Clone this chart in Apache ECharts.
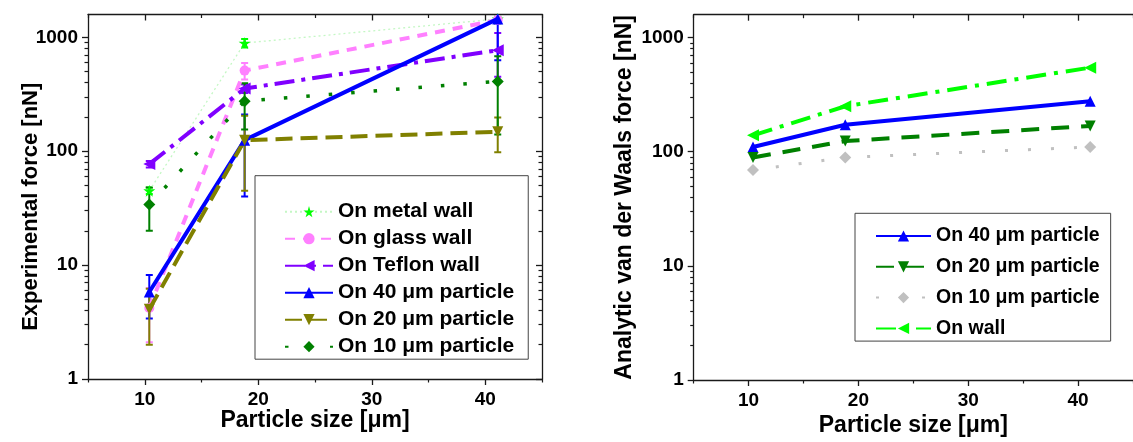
<!DOCTYPE html>
<html>
<head>
<meta charset="utf-8">
<script src="https://cdn.jsdelivr.net/npm/echarts@6/dist/echarts.min.js"></script>
<style>
  html, body { margin: 0; padding: 0; background: #fff; }
  #chart { width: 1133px; height: 442px; }
</style>
</head>
<body>
<div id="chart"></div>
<script>
// Particle sizes [μm]
const sizes = [10.4, 18.8, 41.1];

// Experimental adhesion force [nN] with error half-widths
const metalWall = [45, 890, 1450];
const metalWallErr = [3, 75, 80];
const glassWall = [4.2, 510, 1420];
const glassWallErr = [2.1, 85, 100];
const teflonWall = [77, 355, 770];
const teflonWallErr = [5, 30, 320];
const exp40 = [5.8, 125, 1450];
const exp40Err = [2.4, 85, 820];
const exp20 = [4.1, 125, 148];
const exp20Err = [2.1, 80, 50];
const exp10 = [34, 275, 410];
const exp10Err = [14, 120, 270];

// Analytic van der Waals force [nN]
const vdw40 = [110, 172, 276];
const vdw20 = [89, 124, 168];
const vdw10 = [69, 89, 110];
const vdwWall = [139, 250, 545];

// Axis ticks
const xTicks = [10, 20, 30, 40];
const xMinorTicks = [5, 15, 25, 35, 45];
const yTicks = [1, 10, 100, 1000];
const yMinorTicks = [2, 3, 4, 5, 6, 7, 8, 9, 20, 30, 40, 50, 60, 70, 80, 90,
                     200, 300, 400, 500, 600, 700, 800, 900];

const FONT = '"Liberation Sans", Arial, sans-serif';
const AXIS_COLOR = '#1a1a1a';
const STAR = 'path://M50,0 L61,35 L98,35 L68,57 L79,91 L50,70 L21,91 L32,57 L2,35 L39,35 Z';

const chart = echarts.init(document.getElementById('chart'));

function xAxesFor(grid, titleGap) {
  const base = { type: 'value', gridIndex: grid, min: 5, max: 45, splitLine: { show: false } };
  return [
    Object.assign({}, base, {
      position: 'bottom',
      axisLine: { show: true, lineStyle: { color: AXIS_COLOR, width: 1.3 } },
      axisTick: { show: true, customValues: xTicks, length: 6, lineStyle: { color: AXIS_COLOR, width: 1.3 } },
      axisLabel: { show: true, customValues: xTicks, margin: 11, color: '#000',
                   fontFamily: FONT, fontWeight: 'bold', fontSize: 19,
                   formatter: v => String(v) },
      name: 'Particle size [μm]',
      nameLocation: 'middle', nameGap: titleGap, nameMoveOverlap: false,
      nameTextStyle: { color: '#000', fontFamily: FONT, fontWeight: 'bold', fontSize: 23 }
    }),
    Object.assign({}, base, {
      position: 'bottom',
      axisLine: { show: false },
      axisTick: { show: true, customValues: xMinorTicks, length: 3.5, lineStyle: { color: AXIS_COLOR, width: 1.2 } },
      axisLabel: { show: false }
    }),
    Object.assign({}, base, {
      position: 'top',
      axisLine: { show: true, lineStyle: { color: AXIS_COLOR, width: 1.3 } },
      axisTick: { show: true, inside: true, customValues: xTicks, length: 6, lineStyle: { color: AXIS_COLOR, width: 1.3 } },
      axisLabel: { show: false }
    }),
    Object.assign({}, base, {
      position: 'top',
      axisLine: { show: false },
      axisTick: { show: true, inside: true, customValues: xMinorTicks, length: 3.5, lineStyle: { color: AXIS_COLOR, width: 1.2 } },
      axisLabel: { show: false }
    })
  ];
}

function yAxesFor(grid, title, titleGap, titleSize, titlePad, withRight) {
  const base = { type: 'log', logBase: 10, gridIndex: grid, min: 1, max: 1585, splitLine: { show: false } };
  const axes = [
    Object.assign({}, base, {
      position: 'left',
      axisLine: { show: true, lineStyle: { color: AXIS_COLOR, width: 1.3 } },
      axisTick: { show: true, customValues: yTicks, length: 6, lineStyle: { color: AXIS_COLOR, width: 1.3 } },
      axisLabel: { show: true, customValues: yTicks, margin: 10, color: '#000',
                   fontFamily: FONT, fontWeight: 'bold', fontSize: 19,
                   formatter: v => String(Math.round(v)) },
      name: title, nameLocation: 'middle', nameGap: titleGap, nameMoveOverlap: false,
      nameTextStyle: { color: '#000', fontFamily: FONT, fontWeight: 'bold', fontSize: titleSize,
                       padding: titlePad }
    }),
    Object.assign({}, base, {
      position: 'left',
      axisLine: { show: false },
      axisTick: { show: true, customValues: yMinorTicks, length: 3.5, lineStyle: { color: AXIS_COLOR, width: 1.2 } },
      axisLabel: { show: false }
    })
  ];
  if (withRight) {
    axes.push(Object.assign({}, base, {
      position: 'right',
      axisLine: { show: true, lineStyle: { color: AXIS_COLOR, width: 1.3 } },
      axisTick: { show: true, inside: true, customValues: yTicks, length: 6, lineStyle: { color: AXIS_COLOR, width: 1.3 } },
      axisLabel: { show: false }
    }));
    axes.push(Object.assign({}, base, {
      position: 'right',
      axisLine: { show: false },
      axisTick: { show: true, inside: true, customValues: yMinorTicks, length: 3.5, lineStyle: { color: AXIS_COLOR, width: 1.2 } },
      axisLabel: { show: false }
    }));
  }
  return axes;
}

function lineSeries(name, values, xi, yi, color, width, dash, symbol, size, rotate, z) {
  return {
    type: 'line', name: name, xAxisIndex: xi, yAxisIndex: yi,
    data: sizes.map((x, i) => [x, values[i]]),
    symbol: symbol, symbolSize: size, symbolRotate: rotate || 0,
    showSymbol: true, clip: false, z: z,
    lineStyle: { color: color, width: width, type: dash || 'solid', cap: 'butt' },
    itemStyle: { color: color, borderWidth: 0 },
    emphasis: { disabled: true }
  };
}

function errorSeries(values, errs, color, z) {
  return {
    type: 'custom', xAxisIndex: 0, yAxisIndex: 0, clip: true, silent: true, z: z,
    data: sizes.map((x, i) => [x, values[i], errs[i]]),
    encode: { x: 0, y: 1 },
    renderItem: function (params, api) {
      const x = api.value(0), y = api.value(1), e = api.value(2);
      const hi = api.coord([x, y + e]);
      const lo = api.coord([x, Math.max(y - e, 0.01)]);
      const w = 3.5;
      const st = { stroke: color, lineWidth: 2 };
      return {
        type: 'group',
        children: [
          { type: 'line', shape: { x1: hi[0], y1: hi[1], x2: lo[0], y2: lo[1] }, style: st },
          { type: 'line', shape: { x1: hi[0] - w, y1: hi[1], x2: hi[0] + w, y2: hi[1] }, style: st },
          { type: 'line', shape: { x1: lo[0] - w, y1: lo[1], x2: lo[0] + w, y2: lo[1] }, style: st }
        ]
      };
    }
  };
}

const C = {
  metal: '#00ff00', metalLine: '#c4f7c4', glass: '#ff80ff', teflon: '#8000ff',
  blue: '#0000ff', olive: '#808000', green: '#008000', grey: '#c0c0c0', lime: '#00ff00'
};

const PREFIX = 'Analytic: ';

const legendText = { color: '#000', fontFamily: FONT, fontWeight: 'bold' };

chart.setOption({
  animation: false,
  backgroundColor: '#fff',
  grid: [
    { left: 88, top: 14.5, width: 454, height: 364.5 },
    { left: 693.7, top: 14.7, width: 446.7, height: 369.6 }
  ],
  xAxis: xAxesFor(0, 30).concat(xAxesFor(1, 34)),
  yAxis: yAxesFor(0, 'Experimental force [nN]', 46, 22, [0, 20, 0, 0], true)
    .concat(yAxesFor(1, 'Analytic van der Waals force [nN]', 58, 23, 0, false)),
  legend: [
    {
      orient: 'vertical', left: 255, top: 175.7, selectedMode: false,
      padding: [25.5, 14, 2, 29], itemGap: 6, itemWidth: 48, itemHeight: 14,
      borderColor: '#444', borderWidth: 1,
      textStyle: Object.assign({ fontSize: 21, lineHeight: 21 }, legendText),
      data: ['On metal wall', 'On glass wall', 'On Teflon wall',
             'On 40 μm particle', 'On 20 μm particle', 'On 10 μm particle']
    },
    {
      orient: 'vertical', left: 855, top: 213.3, selectedMode: false,
      padding: [12.7, 11, 2.7, 20], itemGap: 10.8, itemWidth: 55, itemHeight: 14,
      borderColor: '#444', borderWidth: 1,
      formatter: name => name.replace(PREFIX, ''),
      textStyle: Object.assign({ fontSize: 19.5, lineHeight: 20 }, legendText),
      data: [PREFIX + 'On 40 μm particle', PREFIX + 'On 20 μm particle',
             PREFIX + 'On 10 μm particle', PREFIX + 'On wall']
    }
  ],
  series: [
    // error bars (experimental panel)
    errorSeries(metalWall, metalWallErr, C.metal, 2),
    errorSeries(glassWall, glassWallErr, C.glass, 2),
    errorSeries(teflonWall, teflonWallErr, C.teflon, 2),
    errorSeries(exp40, exp40Err, C.blue, 2),
    errorSeries(exp20, exp20Err, C.olive, 2),
    errorSeries(exp10, exp10Err, C.green, 2),
    // experimental force curves
    lineSeries('On metal wall', metalWall, 0, 0, C.metalLine, 1.3, [2, 3], STAR, 12, 0, 3),
    lineSeries('On glass wall', glassWall, 0, 0, C.glass, 4, [10, 8], 'circle', 10, 0, 3),
    lineSeries('On Teflon wall', teflonWall, 0, 0, C.teflon, 4, [20, 7, 4, 7], 'triangle', 12, 90, 3),
    lineSeries('On 40 μm particle', exp40, 0, 0, C.blue, 4, 'solid', 'triangle', 11, 0, 4),
    lineSeries('On 20 μm particle', exp20, 0, 0, C.olive, 4, [17, 8], 'triangle', 11, 180, 4),
    lineSeries('On 10 μm particle', exp10, 0, 0, C.green, 3.5, [3.5, 19], 'diamond', 12, 0, 4),
    // analytic van der Waals curves
    lineSeries(PREFIX + 'On 40 μm particle', vdw40, 4, 4, C.blue, 4, 'solid', 'triangle', 11, 0, 4),
    lineSeries(PREFIX + 'On 20 μm particle', vdw20, 4, 4, C.green, 4, [18, 12], 'triangle', 11, 180, 4),
    lineSeries(PREFIX + 'On 10 μm particle', vdw10, 4, 4, C.grey, 3, [3, 20], 'diamond', 12, 0, 3),
    lineSeries(PREFIX + 'On wall', vdwWall, 4, 4, C.lime, 4, [20, 8, 4, 8], 'triangle', 12, 90, 4)
  ]
});

// metal wall markers are bright green while its connecting line is pale
chart.setOption({ series: [{}, {}, {}, {}, {}, {}, { itemStyle: { color: C.metal } }] });
</script>
</body>
</html>
